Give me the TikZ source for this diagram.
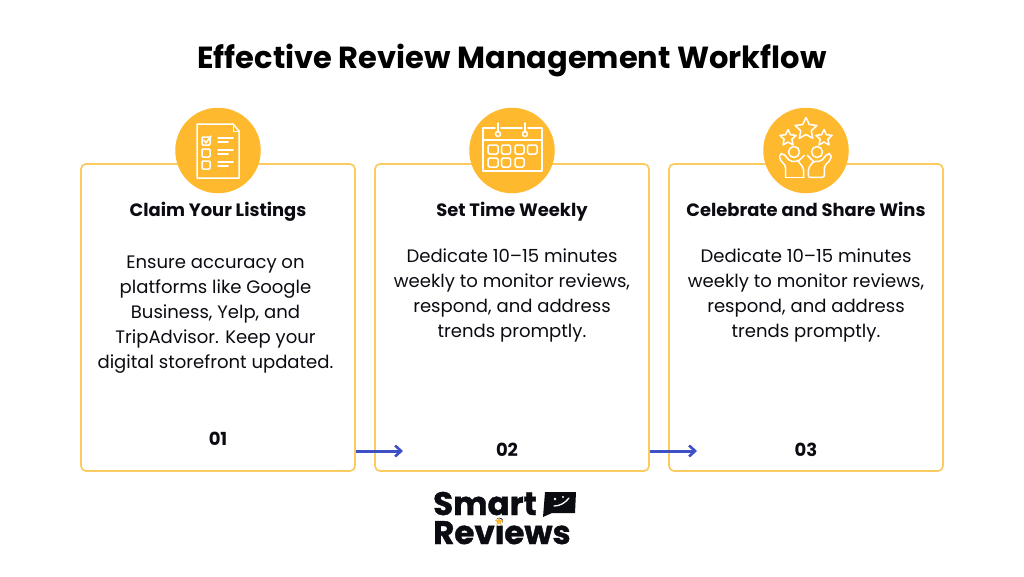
\documentclass[tikz,border=0pt]{standalone}
\usepackage{fontspec}
\setmainfont{Poppins}
\newfontfamily\logofont[BoldFeatures={FakeBold=1.2}]{Poppins}
\definecolor{gold}{HTML}{FFB92E}
\definecolor{edgegold}{HTML}{FBCB62}
\definecolor{arrowblue}{HTML}{3F4FC6}
\definecolor{ink}{HTML}{0B0B12}
\usetikzlibrary{arrows.meta,shapes.geometric}
\tikzset{
  card/.style={draw=edgegold,line width=1.7pt,rounded corners=5pt,fill=white,minimum width=274pt,minimum height=307pt,inner sep=0pt},
  badge/.style={circle,fill=gold,minimum size=85.5pt,inner sep=0pt},
  heading/.style={font=\bfseries\fontsize{17.9}{20}\selectfont,text=ink,inner sep=0pt,anchor=base},
  body/.style={font=\fontsize{18.05}{25}\selectfont,text=ink,align=center,inner sep=0pt},
  num/.style={font=\bfseries\fontsize{18}{20}\selectfont,text=ink,inner sep=0pt},
  flow/.style={draw=arrowblue,line width=3pt,-{Straight Barb[length=6pt,width=11pt,line width=2.6pt]}},
  icon/.style={draw=white,line width=1.5pt,line join=round,line cap=round},
  logo/.style={font=\logofont\bfseries\fontsize{32.5}{33}\selectfont,text=ink,inner sep=0pt,anchor=base west}
}
\begin{document}
\begin{tikzpicture}[x=1pt,y=-1pt]
\useasboundingbox (0,0) rectangle (1024,576);
\fill[white] (0,0) rectangle (1024,576);
\node[font=\bfseries\fontsize{30.5}{34}\selectfont,text=black,inner sep=0pt] (title) at (512,60) {Effective Review Management Workflow};
\node[card] (box1) at (218,317.5) {};
\node[card] (box2) at (512,317.5) {};
\node[card] (box3) at (806,317.5) {};
\node[badge] (b1) at (218,150.5) {};
\node[badge] (b2) at (512,150.5) {};
\node[badge] (b3) at (806,150.5) {};
\node[heading] (h1) at (218,216) {Claim Your Listings};
\node[heading] (h2) at (512,216) {Set Time Weekly};
\node[heading] (h3) at (806,216) {Celebrate and Share Wins};
\node[body,anchor=north] (t1) at (215.5,256) {Ensure accuracy on\\platforms like Google\\Business, Yelp, and\\TripAdvisor. Keep your\\digital storefront updated.};
\node[body,anchor=north] (t2) at (512,249) {Dedicate 10–15 minutes\\weekly to monitor reviews,\\respond, and address\\trends promptly.};
\node[body,anchor=north] (t3) at (806,249) {Dedicate 10–15 minutes\\weekly to monitor reviews,\\respond, and address\\trends promptly.};
\node[num] (n1) at (218,439) {01};
\node[num] (n2) at (507,450) {02};
\node[num] (n3) at (806,450) {03};
\coordinate (a1) at (403,451);
\coordinate (a2) at (697,451);
\draw[flow] (box1.east |- a1) -- (a1);
\draw[flow] (box2.east |- a2) -- (a2);
% icon 1
\draw[icon] (197,124) -- (233,124) -- (239,131) -- (239,178) -- (197,178) -- cycle;
\draw[icon,line width=.8pt] (233,124) -- (233,131) -- (239,131);
\foreach \yy in {137,149,161} \draw[icon,rounded corners=1pt] (202,\yy) rectangle (210,\yy+8);
\draw[icon] (204,140) -- (206,143) -- (211,136);
\foreach \yy in {138,150,162} {\draw[icon] (218,\yy) -- (233,\yy); \draw[icon] (218,\yy+4) -- (228,\yy+4);}
% icon 2
\draw[icon] (495,128) -- (483,128) -- (483,171) -- (542,171) -- (542,128) -- (528,128);
\draw[icon] (501,128) -- (522,128);
\draw[icon] (483,140) -- (542,140);
\foreach \xx in {498,525} {\draw[icon] (\xx,123) -- (\xx,132); \draw[icon] (\xx,134) circle (2.5);}
\foreach \xx/\ww in {488/10,501.5/9,515/9,527.5/9.5} \draw[icon,rounded corners=1.5pt] (\xx,145) rectangle (\xx+\ww,154);
\foreach \xx/\ww in {488/10,501.5/9,515/9} \draw[icon,rounded corners=1.5pt] (\xx,158) rectangle (\xx+\ww,167);
% icon 3
\foreach \cx/\cy/\rr in {806/129/11.5,788/138/8.5,824/138/8.5}
  \draw[icon] ({\cx+\rr*cos(-90)},{\cy+\rr*sin(-90)})
   -- ({\cx+.48*\rr*cos(-54)},{\cy+.48*\rr*sin(-54)})
   -- ({\cx+\rr*cos(-18)},{\cy+\rr*sin(-18)})
   -- ({\cx+.48*\rr*cos(18)},{\cy+.48*\rr*sin(18)})
   -- ({\cx+\rr*cos(54)},{\cy+\rr*sin(54)})
   -- ({\cx+.48*\rr*cos(90)},{\cy+.48*\rr*sin(90)})
   -- ({\cx+\rr*cos(126)},{\cy+\rr*sin(126)})
   -- ({\cx+.48*\rr*cos(162)},{\cy+.48*\rr*sin(162)})
   -- ({\cx+\rr*cos(198)},{\cy+\rr*sin(198)})
   -- ({\cx+.48*\rr*cos(234)},{\cy+.48*\rr*sin(234)})
   -- cycle;
\draw[icon] (794,152) circle (5.5);
\draw[icon] (817,152) circle (5.5);
\begin{scope}[xshift=745pt,yshift=-90pt,x=.3333pt,y=-.3333pt]
\draw[icon,rounded corners=2pt] (122,262) -- (122,228) -- (104,208) -- (104,192) -- (114,190) -- (135,214) -- (160,214) -- (178,196);
\draw[icon,rounded corners=2pt] (176,262) -- (176,235) -- (160,214);
\draw[icon] (122,262) -- (176,262);
\draw[icon,rounded corners=2pt] (258,192) -- (258,208) -- (238,228) -- (238,262) -- (190,262) -- (190,235) -- (205,214) -- (228,214) -- (248,190) -- cycle;
\draw[icon,rounded corners=2pt] (205,214) -- (187,196);
\end{scope}
% logo
\node[logo] (s) at (433,515) {Smart};
\node[logo] (r) at (433,544) {Reviews};
\fill[ink] (545,492) -- (576,492) -- (575,513) -- (552,513) -- (543,517) -- cycle;
\draw[white,line width=1.3pt,line cap=round] (554,506) .. controls (560,506) and (565,503) .. (569,498);
\fill[white] (555,499) circle (1.4);
\fill[white] (563,497) circle (1.2);
\fill[white] (499,522) circle (3.6);
\node[star,star points=5,star point ratio=2.4,fill=gold,minimum size=9pt,inner sep=0pt] (st) at (499,521.5) {};
\end{tikzpicture}
\end{document}
